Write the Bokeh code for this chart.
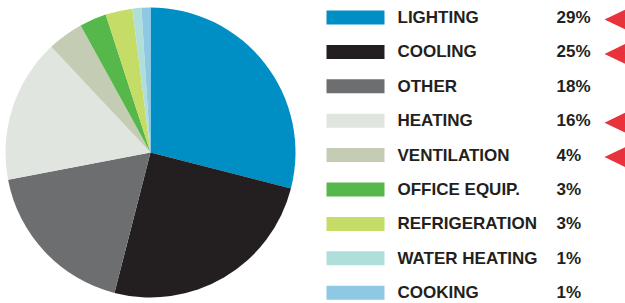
import numpy as np
from bokeh.plotting import figure
from bokeh.models import Range1d, ColumnDataSource
from bokeh.core.properties import value
from bokeh.embed import file_html
from bokeh.resources import INLINE

# ---- data ----
categories = ["LIGHTING", "COOLING", "OTHER", "HEATING", "VENTILATION",
              "OFFICE EQUIP.", "REFRIGERATION", "WATER HEATING", "COOKING"]
shares = [29, 25, 18, 16, 4, 3, 3, 1, 1]
pct_labels = ["29%", "25%", "18%", "16%", "4%", "3%", "3%", "1%", "1%"]
flagged = [1, 1, 0, 1, 1, 0, 0, 0, 0]
colors = ["#008fc5", "#231f20", "#6d6e70", "#e1e5df", "#c5ccb4",
          "#56b84a", "#c5dc66", "#b0dfdb", "#8ec8e2"]

W, H = 625, 303
OFF = 0


def py(page_y):
    return H - (page_y - OFF)


def px(page_x):
    return page_x - OFF


p = figure(width=W, height=H, output_backend="svg", toolbar_location=None,
           x_range=Range1d(0, W), y_range=Range1d(0, H),
           x_axis_location=None, y_axis_location=None, min_border=0,
           outline_line_color=None, background_fill_color="white")
p.grid.visible = False

# ---- pie ----
frac = np.array(shares, dtype=float) / sum(shares)
cum = np.concatenate([[0], np.cumsum(frac)])
start = np.pi / 2 - cum[:-1] * 2 * np.pi
end = np.pi / 2 - cum[1:] * 2 * np.pi
pie_src = ColumnDataSource(dict(start=start, end=end, color=colors))
p.wedge(x=px(150), y=py(152), radius=145, start_angle="start", end_angle="end",
        direction="clock", fill_color="color", line_color=None, source=pie_src)

# ---- legend ----
n = len(categories)
row_y = [py(17 + i * 34.4) for i in range(n)]
leg_src = ColumnDataSource(dict(y=row_y, color=colors, cat=categories, pct=pct_labels))
p.rect(x=px(355), y="y", width=58, height=14, fill_color="color", line_color=None,
       source=leg_src)
font = value("Liberation Sans")
p.text(x=px(397), y="y", text="cat", text_font=font, text_font_style="bold",
       text_font_size="17px", text_baseline="middle", text_color="#231f20",
       source=leg_src)
p.text(x=px(556), y="y", text="pct", text_font=font, text_font_style="bold",
       text_font_size="17px", text_baseline="middle", text_color="#231f20",
       source=leg_src)

# ---- arrows ----
xs, ys = [], []
for i, f in enumerate(flagged):
    if f:
        c = py(17 + i * 34.4 + 2)
        xs.append([px(604), px(630), px(630)])
        ys.append([c, c + 12.5, c - 12.5])
p.patches(xs=xs, ys=ys, fill_color="#e8323c", line_color=None)

open("out.html", "w").write(file_html(p, INLINE))
